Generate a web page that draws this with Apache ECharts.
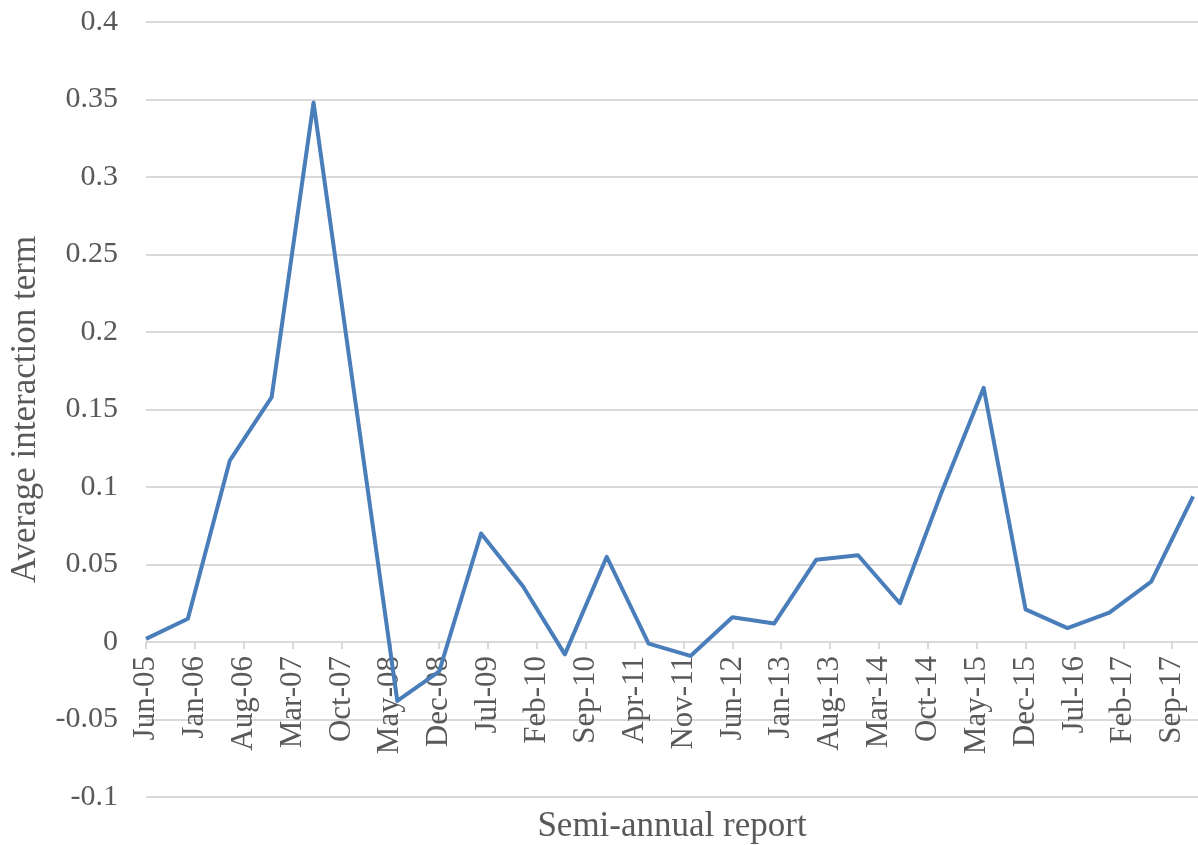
<!DOCTYPE html>
<html>
<head>
<meta charset="utf-8">
<script src="https://cdn.jsdelivr.net/npm/echarts@6/dist/echarts.min.js"></script>
<style>
html,body{margin:0;padding:0;background:#fff;}
#chart{width:1198px;height:845px;}
</style>
</head>
<body>
<div id="chart"></div>
<script>
const reportDates = ['2005-06','2005-12','2006-06','2006-12','2007-06','2007-12','2008-06','2008-12',
  '2009-06','2009-12','2010-06','2010-12','2011-06','2011-12','2012-06','2012-12','2013-06','2013-12',
  '2014-06','2014-12','2015-06','2015-12','2016-06','2016-12','2017-06','2017-12'];
const interactionValues = [0.002, 0.015, 0.117, 0.158, 0.348, 0.155, -0.038, -0.019,
  0.070, 0.036, -0.008, 0.055, -0.001, -0.009, 0.016, 0.012, 0.053, 0.056,
  0.025, 0.097, 0.164, 0.021, 0.009, 0.019, 0.039, 0.094];
const monthNames = ['Jan','Feb','Mar','Apr','May','Jun','Jul','Aug','Sep','Oct','Nov','Dec'];
const startYear = 2005, startMonth = 6;
const yTickLabels = ['-0.1','-0.05','0','0.05','0.1','0.15','0.2','0.25','0.3','0.35','0.4'];
const yMin = -0.1, yMax = 0.4, yStep = 0.05;

function monthIndex(s) {
  const [y, m] = s.split('-').map(Number);
  return (y - startYear) * 12 + (m - startMonth);
}
function monthLabel(v) {
  if (Math.abs(v - Math.round(v)) > 1e-6) return '';
  const t = Math.round(v) + (startMonth - 1);
  const y = startYear + Math.floor(t / 12);
  return monthNames[t % 12] + '-' + String(y).slice(2);
}

const W = 1198, H = 845;
const gridTop = 22, gridBottom = 48;
const plotH = H - gridTop - gridBottom;
// x axis crosses the value axis at 0
const xAxisOffset = -((0 - yMin) / (yMax - yMin)) * plotH;

const seriesData = reportDates.map((d, i) => [monthIndex(d), interactionValues[i]]);
const font = 'Liberation Serif';
const chart = echarts.init(document.getElementById('chart'));
chart.setOption({
  animation: false,
  grid: { left: 146, right: 0, top: gridTop, bottom: gridBottom, containLabel: false, outerBoundsMode: 'none' },
  xAxis: {
    type: 'value', min: 0, max: 150.7, interval: 7,
    position: 'bottom', offset: xAxisOffset,
    name: 'Semi-annual report', nameLocation: 'middle', nameGap: 167,
    nameTextStyle: { fontFamily: font, fontSize: 35, color: '#595959' },
    axisLine: { show: true, onZero: false, lineStyle: { color: '#d9d9d9', width: 2 } },
    axisTick: { show: true, length: 7, lineStyle: { color: '#d9d9d9', width: 2 } },
    splitLine: { show: false },
    axisLabel: {
      rotate: 90, margin: 14, showMaxLabel: false,
      fontFamily: font, fontSize: 31, color: '#595959',
      formatter: monthLabel
    }
  },
  yAxis: {
    type: 'value', min: yMin, max: yMax, interval: yStep,
    name: 'Average interaction term', nameLocation: 'middle', nameGap: 103,
    nameTextStyle: { fontFamily: font, fontSize: 35, color: '#595959' },
    axisLine: { show: false, onZero: false }, axisTick: { show: false },
    splitLine: { lineStyle: { color: '#d9d9d9', width: 2 } },
    axisLabel: {
      margin: 28, fontFamily: font, fontSize: 30, color: '#595959',
      formatter: function (v) {
        const idx = Math.round((v - yMin) / yStep);
        return yTickLabels[idx] !== undefined ? yTickLabels[idx] : '';
      }
    }
  },
  series: [{
    type: 'line', data: seriesData, symbol: 'none',
    lineStyle: { color: '#4a7ebb', width: 4, join: 'round' }
  }]
});
</script>
</body>
</html>
